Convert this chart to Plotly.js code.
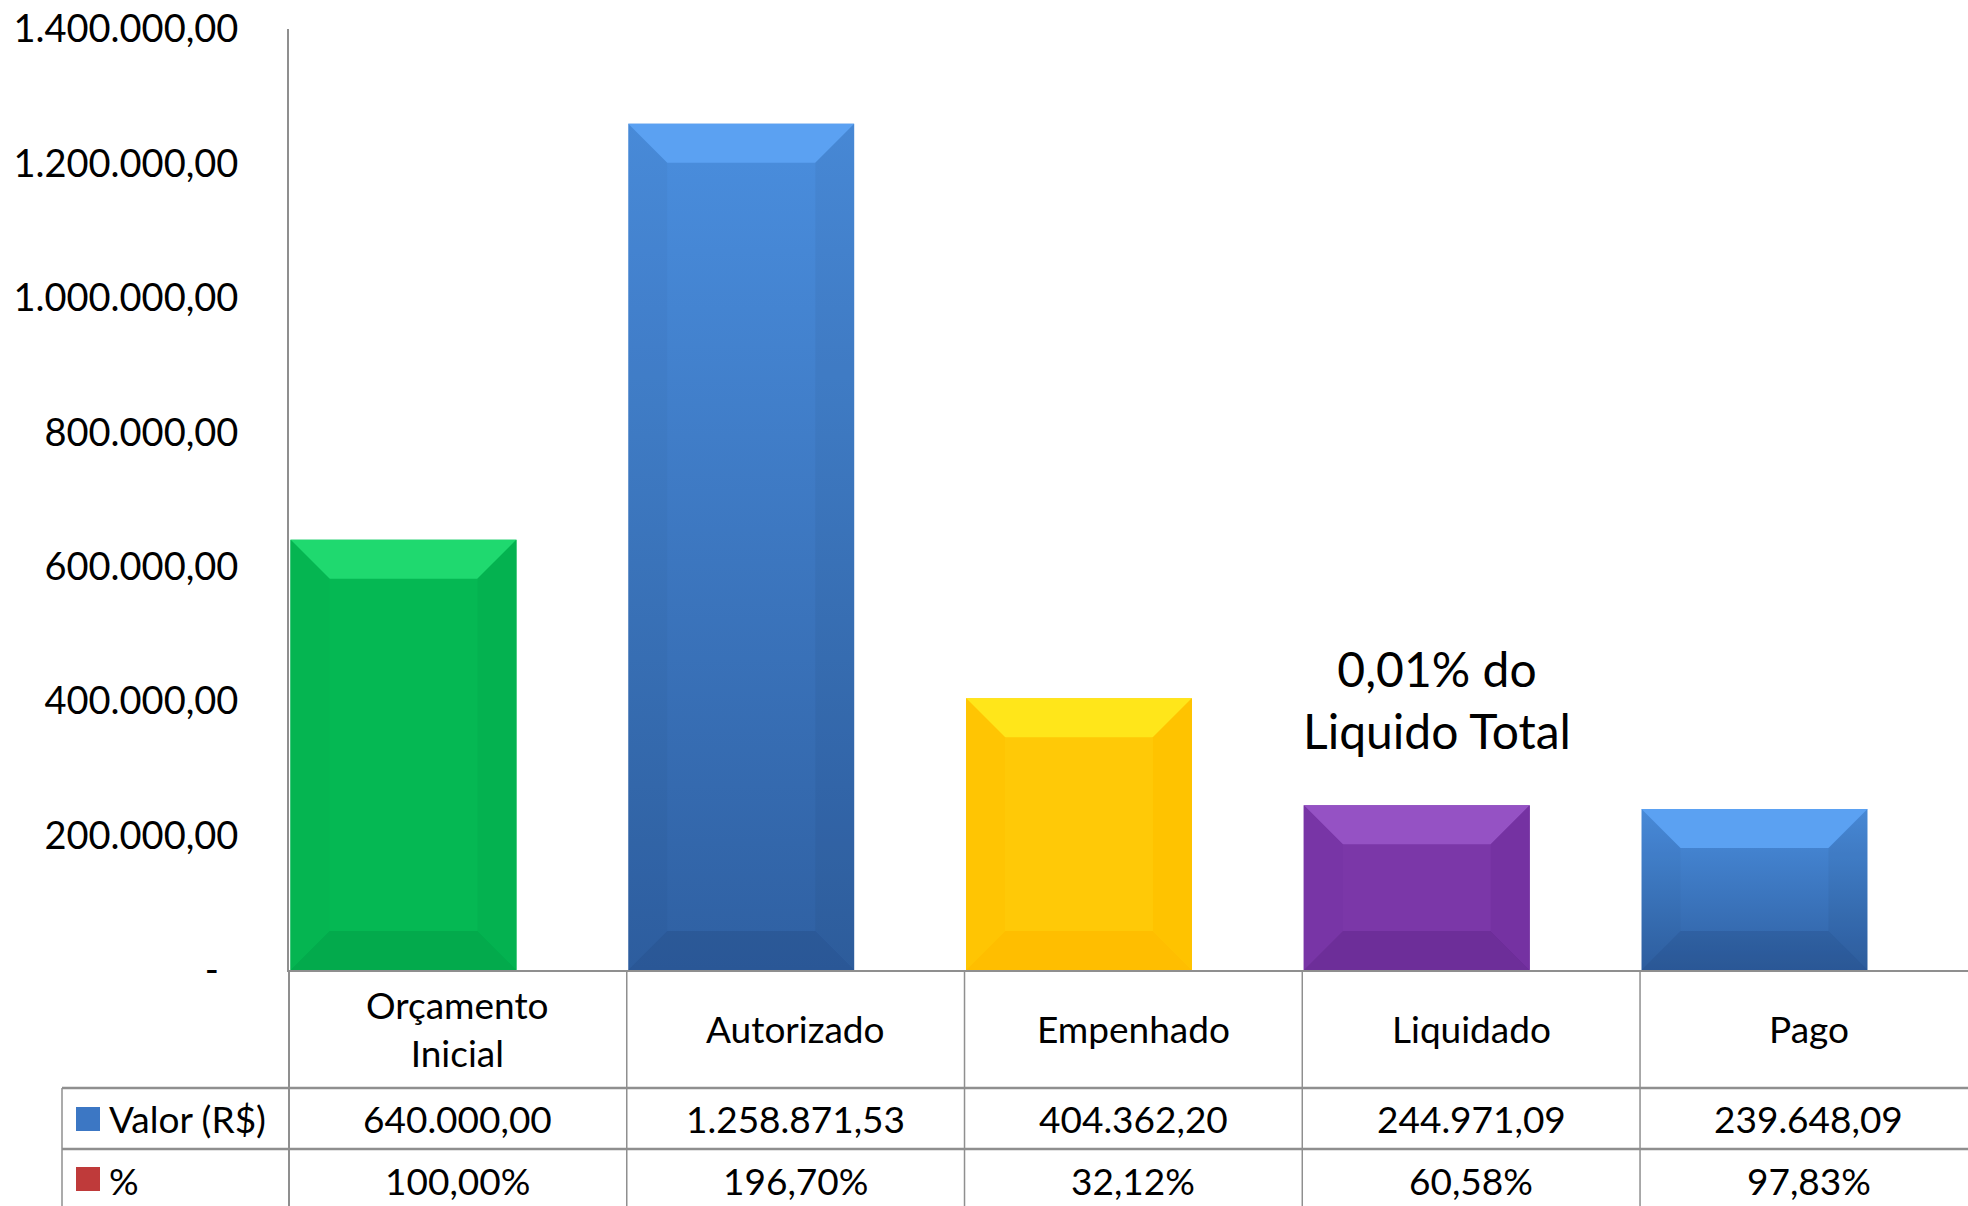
<!DOCTYPE html>
<html><head><meta charset="utf-8">
<script src="https://cdn.plot.ly/plotly-3.0.1.min.js"></script>
<style>html,body{margin:0;padding:0;background:#fff;} #chart{width:1968px;height:1206px;}</style>
</head><body><div id="chart"></div>
<script>
// ---------- data ----------
const categories = ['Orçamento Inicial', 'Autorizado', 'Empenhado', 'Liquidado', 'Pago'];
const valores = [640000.00, 1258871.53, 404362.20, 244971.09, 239648.09];
const percentuais = [100.00, 196.70, 32.12, 60.58, 97.83];
const yTicks = [0, 200000, 400000, 600000, 800000, 1000000, 1200000, 1400000];
const rowHeaders = ['Valor (R$)', '%'];
const noteLines = ['0,01% do', 'Liquido Total'];

// ---------- geometry / style ----------
const W = 1968, H = 1206, ML = 289, MT = 29, MB = 236, MR = 0;
const plotW = W - ML - MR, plotH = H - MT - MB;
const xMin = -0.5, xMax = 4.471, yMax = 1400000;
const barWidth = 0.669, barOffset = -0.4956;
const FONT = 'Lato, "Liberation Sans", sans-serif';
const baseColors = ['#05B853', '#3A74C0', '#FFC907', '#7B37A8', '#3A74C0'];
const gradIds = [null, 'gradBlue', null, null, 'gradBlue'];
const bevelStyles = [
  {top: '#1FD96F', bottom: '#03AA4C', left: '#05B551', right: '#04B250'},
  {top: '#5BA1F2', bottom: 'rgba(15,35,75,0.14)', left: 'rgba(0,0,0,0.025)', right: 'rgba(0,0,0,0.04)'},
  {top: '#FFE61A', bottom: '#FFBE00', left: '#FFC503', right: '#FFC300'},
  {top: '#9552C4', bottom: '#6D2E99', left: '#7835A6', right: '#7532A2'},
  {top: '#5BA1F2', bottom: 'rgba(15,35,75,0.14)', left: 'rgba(0,0,0,0.025)', right: 'rgba(0,0,0,0.04)'}
];
const lineColor = '#8f8f8f';

// ---------- helpers ----------
function fmtBR(v) {
  const parts = v.toFixed(2).split('.');
  const intPart = parts[0].replace(/\B(?=(\d{3})+(?!\d))/g, '.');
  return intPart + ',' + parts[1];
}
function fmtPct(v) { return v.toFixed(2).replace('.', ',') + '%'; }
const px2paperX = p => (p - ML) / plotW;
const px2paperY = p => (H - MB - p) / plotH;
const cat2paperX = c => (c - xMin) / (xMax - xMin);

// ---------- traces ----------
const data = [{
  type: 'bar',
  name: rowHeaders[0],
  x: categories.map((c, i) => i),
  y: valores,
  width: barWidth,
  offset: barOffset,
  marker: {color: baseColors, line: {width: 0}},
  hoverinfo: 'skip',
  showlegend: false
}];

// ---------- shapes ----------
const shapes = [];
const d = 39;
const dx = d * (xMax - xMin) / plotW, dy = d * yMax / plotH;
function poly(pts, color, xref, yref) {
  shapes.push({
    type: 'path', xref: xref || 'x', yref: yref || 'y', layer: 'above',
    path: 'M' + pts.map(p => p[0] + ',' + p[1]).join(' L') + ' Z',
    fillcolor: color, line: {width: 0}
  });
}
valores.forEach((v, i) => {
  const x0 = i + barOffset, x1 = x0 + barWidth, st = bevelStyles[i];
  poly([[x0, v], [x1, v], [x1 - dx, v - dy], [x0 + dx, v - dy]], st.top);
  poly([[x0, 0], [x1, 0], [x1 - dx, dy], [x0 + dx, dy]], st.bottom);
  poly([[x0, v], [x0 + dx, v - dy], [x0 + dx, dy], [x0, 0]], st.left);
  poly([[x1, v], [x1 - dx, v - dy], [x1 - dx, dy], [x1, 0]], st.right);
});

// table lines
const yBottom = px2paperY(H + 10);
const yRow1 = px2paperY(1088), yRow2 = px2paperY(1149);
function line(x0, y0, x1, y1, w) {
  shapes.push({type: 'line', xref: 'paper', yref: 'paper', x0, y0, x1, y1,
    line: {color: lineColor, width: w || 1.5}, layer: 'above'});
}
line(0, 0, 0, yBottom, 2);
for (let i = 1; i < categories.length; i++) {
  const xp = cat2paperX(i - 0.5);
  line(xp, 0, xp, yBottom, 1.5);
}
line(px2paperX(62), yRow1, px2paperX(62), yBottom, 1.5);
line(px2paperX(62), yRow1, 1, yRow1, 2.5);
line(px2paperX(62), yRow2, 1, yRow2, 2.5);
// legend keys
shapes.push({type: 'rect', xref: 'paper', yref: 'paper', x0: px2paperX(76), x1: px2paperX(100),
  y0: px2paperY(1107), y1: px2paperY(1131), fillcolor: '#3C77C4', line: {width: 0}});
shapes.push({type: 'rect', xref: 'paper', yref: 'paper', x0: px2paperX(76), x1: px2paperX(100),
  y0: px2paperY(1167), y1: px2paperY(1191), fillcolor: '#BF3A3A', line: {width: 0}});

// ---------- annotations ----------
const annotations = [];
const tfont = {family: FONT, size: 37, color: '#000'};
categories.forEach((c, i) => {
  const label = c.length > 12 ? c.replace(' ', '<br>') : c;
  annotations.push({xref: 'x', yref: 'paper', x: i, y: px2paperY(1028), text: label,
    showarrow: false, font: tfont, xanchor: 'center', yanchor: 'middle'});
  annotations.push({xref: 'x', yref: 'paper', x: i, y: px2paperY(1118), text: fmtBR(valores[i]),
    showarrow: false, font: tfont, xanchor: 'center', yanchor: 'middle'});
  annotations.push({xref: 'x', yref: 'paper', x: i, y: px2paperY(1180), text: fmtPct(percentuais[i]),
    showarrow: false, font: tfont, xanchor: 'center', yanchor: 'middle'});
});
annotations.push({xref: 'paper', yref: 'paper', x: px2paperX(107), y: px2paperY(1118), text: rowHeaders[0],
  showarrow: false, font: tfont, xanchor: 'left', yanchor: 'middle'});
annotations.push({xref: 'paper', yref: 'paper', x: px2paperX(107), y: px2paperY(1180), text: rowHeaders[1],
  showarrow: false, font: tfont, xanchor: 'left', yanchor: 'middle'});
annotations.push({xref: 'paper', yref: 'paper', x: px2paperX(1437), y: px2paperY(699),
  text: noteLines.join('<br>'), showarrow: false,
  font: {family: FONT, size: 48, color: '#000'}, xanchor: 'center', yanchor: 'middle'});

// ---------- layout ----------
const layout = {
  width: W, height: H,
  margin: {l: ML, r: MR, t: MT, b: MB, pad: 0},
  paper_bgcolor: '#fff', plot_bgcolor: 'rgba(0,0,0,0)',
  font: {family: FONT, color: '#000'},
  showlegend: false,
  xaxis: {range: [xMin, xMax], showgrid: false, zeroline: false, showticklabels: false,
    ticks: '', showline: true, linecolor: lineColor, linewidth: 2, fixedrange: true},
  yaxis: {range: [0, yMax], showgrid: false, zeroline: false, showline: true,
    linecolor: lineColor, linewidth: 2, ticks: '',
    tickvals: yTicks,
    ticktext: yTicks.map(v => v === 0 ? '-\u00a0\u00a0' : fmtBR(v)),
    tickfont: {family: FONT, size: 38, color: '#000'},
    ticklabelstandoff: 41, fixedrange: true},
  shapes, annotations
};

Plotly.newPlot('chart', data, layout, {displayModeBar: false, staticPlot: true}).then(gd => {
  const ns = 'http://www.w3.org/2000/svg';
  const svg = gd.querySelector('.main-svg');
  let defs = svg.querySelector('defs');
  if (!defs) { defs = document.createElementNS(ns, 'defs'); svg.insertBefore(defs, svg.firstChild); }
  const g = document.createElementNS(ns, 'linearGradient');
  g.setAttribute('id', 'gradBlue');
  g.setAttribute('x1', '0'); g.setAttribute('y1', '0'); g.setAttribute('x2', '0'); g.setAttribute('y2', '1');
  [['0', '#4A8EDE'], ['1', '#2F60A2']].forEach(([o, c]) => {
    const s = document.createElementNS(ns, 'stop');
    s.setAttribute('offset', o); s.setAttribute('stop-color', c); g.appendChild(s);
  });
  defs.appendChild(g);
  const paths = gd.querySelectorAll('.barlayer .point path');
  paths.forEach((p, i) => { if (gradIds[i]) p.style.fill = 'url(#' + gradIds[i] + ')'; });
});
</script>
</body></html>
